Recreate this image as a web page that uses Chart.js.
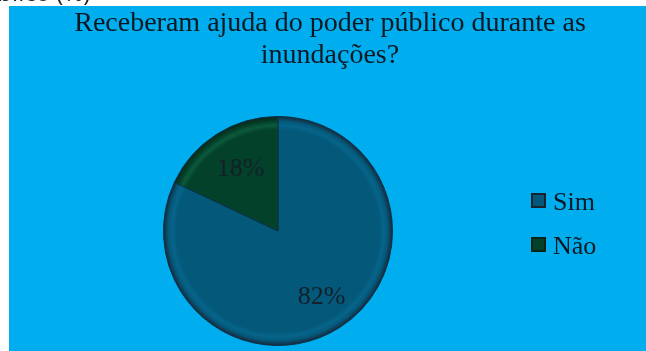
<!DOCTYPE html>
<html>
<head>
<meta charset="utf-8">
<script src="https://cdn.jsdelivr.net/npm/chart.js@4.4.0/dist/chart.umd.min.js"></script>
<style>
    body { margin: 0; background: #fff; overflow: hidden; }
    canvas { position: absolute; left: 0; top: 0; }
    #topo {
        position: absolute; left: -32px; top: -20px; z-index: 2;
        font: 24px "Open Sans", sans-serif; line-height: 24px; color: #222; white-space: nowrap;
    }
</style>
</head>
<body>
<canvas id="graficoAjuda" width="646" height="351"></canvas>
<div id="topo">público (%)</div>
<script>
// dados do grafico
const categorias = ['Sim', 'Não'];
const percentuais = [82, 18];
const coresFatias = ['#04587A', '#03412A'];
const coresBorda = ['#1a2232', '#0c2418'];
const coresBrilho = ['#06658a', '#0c5a3c'];
const titulo = ['Receberam ajuda do poder público durante as', 'inundações?'];

const fonteSerif = '"Liberation Serif", "Times New Roman", serif';

function gradienteFatia(context) {
    const i = context.dataIndex;
    const area = context.chart.chartArea;
    if (!area) return coresFatias[i];
    const cx = (area.left + area.right) / 2;
    const cy = (area.top + area.bottom) / 2;
    const r = Math.min(area.width, area.height) / 2;
    const g = context.chart.ctx.createRadialGradient(cx, cy, 0, cx, cy, r);
    g.addColorStop(0, coresFatias[i]);
    g.addColorStop(0.88, coresFatias[i]);
    g.addColorStop(0.92, coresBrilho[i]);
    g.addColorStop(0.955, coresFatias[i]);
    g.addColorStop(1, coresBorda[i]);
    return g;
}

// fundo azul do quadro
const fundo = {
    id: 'fundo',
    beforeDraw(chart) {
        const ctx = chart.ctx;
        ctx.save();
        ctx.fillStyle = '#00AEEF';
        ctx.fillRect(9, 6, 637, 345);
        ctx.restore();
    }
};

// titulo, rotulos de porcentagem e legenda
const textos = {
    id: 'textos',
    afterDatasetsDraw(chart) {
        const ctx = chart.ctx;
        ctx.save();
        ctx.fillStyle = '#0b1822';
        ctx.font = '28px ' + fonteSerif;
        ctx.textAlign = 'center';
        ctx.textBaseline = 'alphabetic';
        ctx.fillText(titulo[0], 330, 31);
        ctx.fillText(titulo[1], 330, 63);

        // porcentagens dentro das fatias
        ctx.font = '26px ' + fonteSerif;
        ctx.fillStyle = '#13202a';
        ctx.textBaseline = 'middle';
        chart.getDatasetMeta(0).data.forEach((arco, i) => {
            const meio = (arco.startAngle + arco.endAngle) / 2;
            const dist = arco.outerRadius * 0.66;
            ctx.fillText(percentuais[i] + '%', arco.x + Math.cos(meio) * dist + 3, arco.y + Math.sin(meio) * dist + 2);
        });

        // legenda
        ctx.textAlign = 'left';
        ctx.textBaseline = 'alphabetic';
        categorias.forEach((nome, i) => {
            const y = 193 + i * 44;
            ctx.fillStyle = coresBorda[i];
            ctx.fillRect(531, y, 15, 15);
            ctx.fillStyle = coresFatias[i];
            ctx.fillRect(533, y + 2, 11, 11);
            ctx.fillStyle = '#0b1822';
            ctx.fillText(nome, 553, y + 17);
        });
        ctx.restore();
    }
};

new Chart(document.getElementById('graficoAjuda'), {
    type: 'pie',
    data: {
        labels: categorias,
        datasets: [{
            data: percentuais,
            backgroundColor: gradienteFatia,
            borderColor: '#0a3248',
            borderWidth: 1
        }]
    },
    options: {
        responsive: false,
        animation: false,
        layout: { padding: { left: 163, right: 253, top: 116, bottom: 5 } },
        plugins: {
            legend: { display: false },
            tooltip: { enabled: false }
        }
    },
    plugins: [fundo, textos]
});
</script>
</body>
</html>
